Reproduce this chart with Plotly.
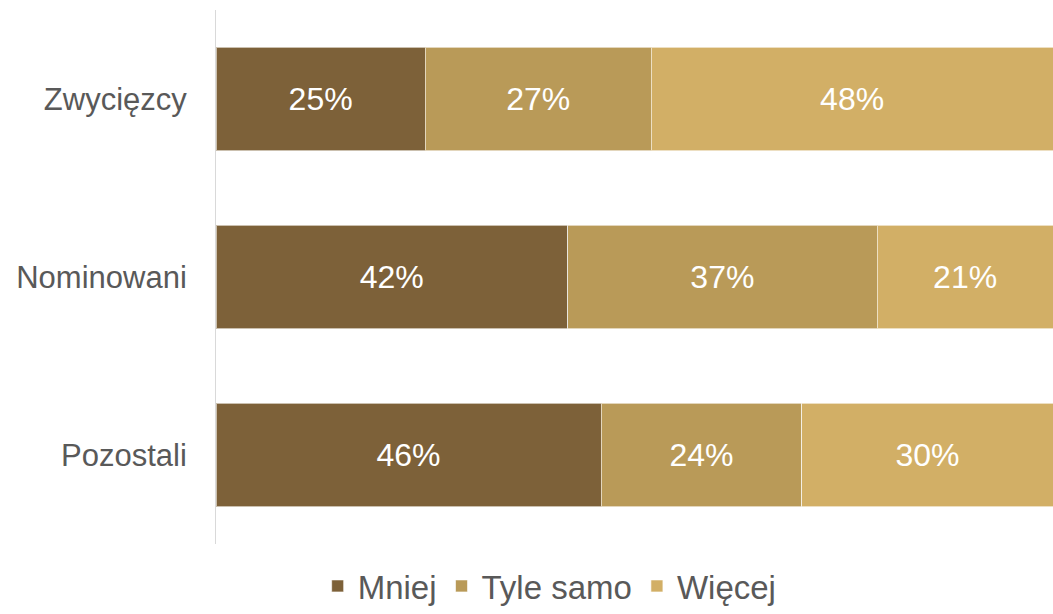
import plotly.graph_objects as go

categories = ["Zwycięzcy", "Nominowani", "Pozostali"]
series_names = ["Mniej", "Tyle samo", "Więcej"]
mniej = [25, 42, 46]
tyle_samo = [27, 37, 24]
wiecej = [48, 21, 30]
colors = ["#7D6139", "#B99A58", "#D2AF66"]

fig = go.Figure()
for name, vals, col in zip(series_names, [mniej, tyle_samo, wiecej], colors):
    fig.add_trace(go.Bar(
        y=categories, x=vals, name=name, orientation="h",
        marker=dict(color=col, line=dict(color="rgba(255,255,255,0.6)", width=1)),
        text=[f"{v}%" for v in vals], textposition="inside", insidetextanchor="middle",
        textfont=dict(color="white", size=32, family="Liberation Sans, Arial"),
        hoverinfo="skip",
    ))

fig.update_layout(
    barmode="stack",
    bargap=0.42,
    width=1053, height=614,
    margin=dict(l=216, r=0, t=10, b=70),
    plot_bgcolor="white", paper_bgcolor="white",
    font=dict(family="Liberation Sans, Arial", color="#595959"),
    uniformtext=dict(mode="show", minsize=10),
    xaxis=dict(range=[0, 100], visible=False, fixedrange=True),
    yaxis=dict(autorange="reversed", showline=True, linecolor="#D9D9D9", linewidth=1,
               showgrid=False, ticks="", tickfont=dict(size=31, color="#595959"),
               ticklabelstandoff=22),
    legend=dict(orientation="h", xref="container", yref="container",
                x=0.522, xanchor="center", y=-0.03, yanchor="bottom",
                font=dict(size=33, color="#595959"), itemwidth=30,
                traceorder="normal"),
    showlegend=True,
)

fig.write_html("out.html")
